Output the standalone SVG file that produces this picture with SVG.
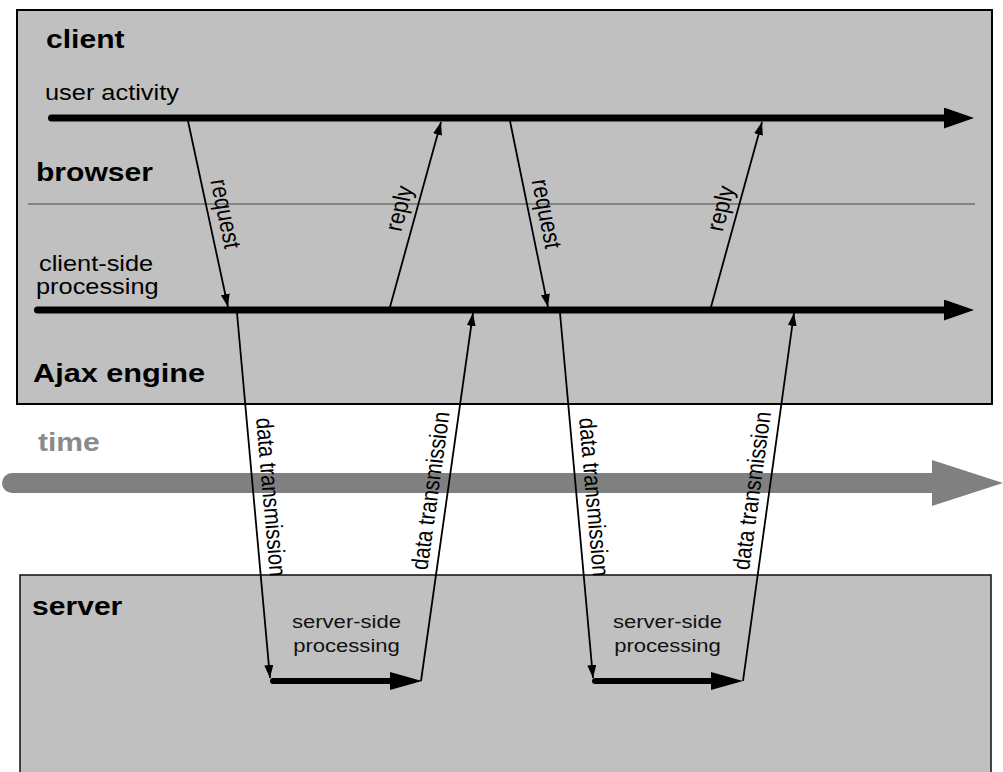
<svg xmlns="http://www.w3.org/2000/svg" width="1003" height="772" viewBox="0 0 1003 772">
  <style>
    text { font-family: "Liberation Sans", Arial, Helvetica, sans-serif; fill: #000; }
    .title { font-size: 25.5px; font-weight: bold; }
    .label { font-size: 21.5px; }
    .small { font-size: 18.7px; fill: #111; }
    .msg { font-size: 21px; text-anchor: middle; }
    .dt { font-size: 20.3px; text-anchor: middle; }
    .box { fill: #c0c0c0; stroke: #000; stroke-width: 2; }
    .timeline { stroke: #000; stroke-width: 7; stroke-linecap: round; fill: none; }
    .srvline { stroke: #000; stroke-width: 6; stroke-linecap: round; fill: none; }
    .conn { stroke: #000; stroke-width: 1.8; fill: none; marker-end: url(#tip); }
  </style>
  <defs>
    <marker id="tip" markerUnits="userSpaceOnUse" markerWidth="14" markerHeight="10" refX="13" refY="4.5" orient="auto">
      <path d="M0,0 L13,4.5 L0,9 z" fill="#000"/>
    </marker>
    <marker id="headThick" markerUnits="userSpaceOnUse" markerWidth="31" markerHeight="22" refX="1" refY="10.5" orient="auto">
      <path d="M0,0 L30,10.5 L0,21 z" fill="#000"/>
    </marker>
    <marker id="headSrv" markerUnits="userSpaceOnUse" markerWidth="33" markerHeight="19" refX="1" refY="9" orient="auto">
      <path d="M0,0 L32,9 L0,18 z" fill="#000"/>
    </marker>
  </defs>

  <rect width="1003" height="772" fill="#fff"/>

  <!-- client / browser / Ajax engine -->
  <g id="client-box">
    <rect class="box" x="17" y="10" width="975" height="394"/>
    <line x1="28" y1="204" x2="975" y2="204" stroke="#6e6e6e" stroke-width="1.6"/>
    <text class="title" transform="translate(46,48) scale(1.18,1)">client</text>
    <text class="title" transform="translate(36,181) scale(1.18,1)">browser</text>
    <text class="title" style="font-size:26px" transform="translate(33,382) scale(1.18,1)">Ajax engine</text>
  </g>

  <g id="user-activity">
    <text class="label" transform="translate(45,100) scale(1.18,1)">user activity</text>
    <line class="timeline" x1="51.5" y1="118" x2="945" y2="118" marker-end="url(#headThick)"/>
  </g>

  <g id="client-side-processing">
    <text class="label" transform="translate(39,271) scale(1.18,1)">client-side</text>
    <text class="label" transform="translate(36,294) scale(1.18,1)">processing</text>
    <line class="timeline" x1="37.5" y1="310" x2="945" y2="310" marker-end="url(#headThick)"/>
  </g>

  <!-- time axis -->
  <g id="time-axis">
    <text class="title" style="fill:#8a8a8a" transform="translate(38,451) scale(1.18,1)">time</text>
    <line x1="12" y1="483" x2="934" y2="483" stroke="#808080" stroke-width="20" stroke-linecap="round"/>
    <polygon points="932,460 1003,483 932,506" fill="#808080"/>
  </g>

  <!-- server -->
  <g id="server-box">
    <rect x="20" y="575" width="971" height="210" fill="#c0c0c0" stroke="#1a1a1a" stroke-width="1.6"/>
    <text class="title" transform="translate(32,615) scale(1.18,1)">server</text>
  </g>

  <g id="server-processing-1">
    <text class="small" text-anchor="middle" transform="translate(346.5,628) scale(1.18,1)">server-side</text>
    <text class="small" text-anchor="middle" transform="translate(346.5,652) scale(1.18,1)">processing</text>
    <line class="srvline" x1="273" y1="681" x2="391" y2="681" marker-end="url(#headSrv)"/>
  </g>

  <g id="server-processing-2">
    <text class="small" text-anchor="middle" transform="translate(667.5,628) scale(1.18,1)">server-side</text>
    <text class="small" text-anchor="middle" transform="translate(667.5,652) scale(1.18,1)">processing</text>
    <line class="srvline" x1="595" y1="681" x2="712" y2="681" marker-end="url(#headSrv)"/>
  </g>

  <!-- messages between the timelines -->
  <g id="connectors">
    <line class="conn" x1="188" y1="121" x2="228" y2="307"/>
    <line class="conn" x1="390" y1="307" x2="441" y2="122"/>
    <line class="conn" x1="510" y1="121" x2="548" y2="307"/>
    <line class="conn" x1="711" y1="307" x2="762" y2="122"/>
    <line class="conn" x1="237" y1="313" x2="270" y2="678"/>
    <line class="conn" x1="421" y1="681" x2="473" y2="313"/>
    <line class="conn" x1="560" y1="313" x2="593" y2="678"/>
    <line class="conn" x1="743" y1="681" x2="794" y2="313"/>

    <text class="msg" transform="translate(217.5,215) scale(1.18,1) rotate(79.83)">request</text>
    <text class="msg" transform="translate(407.2,210) scale(1.18,1) rotate(-76.86)">reply</text>
    <text class="msg" transform="translate(538.5,215) scale(1.18,1) rotate(80.33)">request</text>
    <text class="msg" transform="translate(728.7,210) scale(1.18,1) rotate(-76.86)">reply</text>
    <text class="dt" transform="translate(263,497.5) scale(1.18,1) rotate(85.65)">data transmission</text>
    <text class="dt" transform="translate(438.5,491.5) scale(1.18,1) rotate(-83.17)">data transmission</text>
    <text class="dt" transform="translate(586,497.5) scale(1.18,1) rotate(85.65)">data transmission</text>
    <text class="dt" transform="translate(760,491.5) scale(1.18,1) rotate(-83.3)">data transmission</text>
  </g>
</svg>
